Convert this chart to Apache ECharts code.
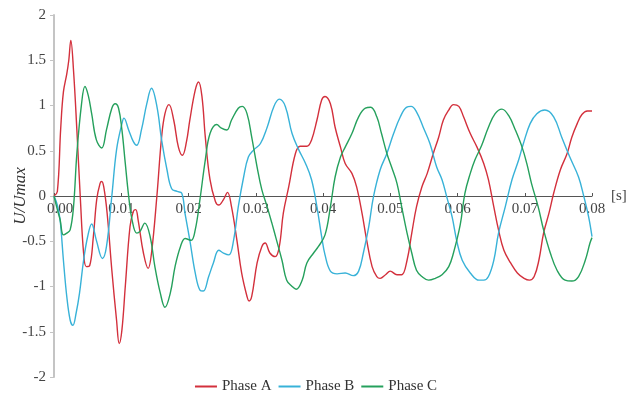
<!DOCTYPE html>
<html><head><meta charset="utf-8">
<script src="https://cdn.jsdelivr.net/npm/echarts@6/dist/echarts.min.js"></script>
<style>html,body{margin:0;padding:0;background:#fff}#c{width:632px;height:396px}</style>
</head><body><div id="c"></div>
<script>
// time in milliseconds, values U/Umax
const seriesNames = ['Phase A', 'Phase B', 'Phase C'];
const xTicks = ['0.00','0.01','0.02','0.03','0.04','0.05','0.06','0.07','0.08'];
const yTicks = [-2, -1.5, -1, -0.5, 0, 0.5, 1, 1.5, 2];

const tA = [0,0.5,1.0,1.4,1.9,2.2,2.5,2.9,3.4,3.9,4.4,4.8,5.3,5.85,6.35,6.85,7.1,7.4,7.9,8.6,9.3,9.7,10.1,10.6,11.3,11.8,12.15,12.5,13.3,14.0,14.5,15.3,16.0,16.5,17.1,17.8,18.5,19.1,19.7,20.2,21.0,21.5,22.0,22.5,23.2,24.0,24.5,25.2,25.8,26.4,27.2,27.9,28.7,29.0,29.4,30.2,30.9,31.4,32.1,32.9,33.5,34.1,34.9,35.9,36.6,37.6,38.3,39.1,39.8,40.3,41.1,41.8,42.6,43.3,44.3,45.0,45.8,46.5,47.3,48.0,48.5,49.3,50.0,51.0,51.7,52.5,53.2,53.9,54.7,55.5,56.4,57.2,57.9,58.7,59.4,60.2,60.9,61.9,62.9,63.9,64.6,65.4,66.1,66.9,67.9,68.9,69.9,70.7,71.4,72.1,72.8,73.6,74.3,75.3,76.3,77.0,77.8,78.5,79.3,80.0];
const vA = [0,0.05,0.75,1.15,1.35,1.5,1.72,1.39,0.73,0,-0.63,-0.78,-0.77,-0.45,-0.04,0.14,0.16,0.1,-0.19,-0.82,-1.37,-1.63,-1.48,-1.0,-0.34,-0.17,-0.15,-0.26,-0.63,-0.8,-0.63,0,0.65,0.91,1.01,0.84,0.54,0.45,0.6,0.84,1.17,1.26,1.10,0.65,0.18,-0.06,-0.1,-0.04,0.04,-0.12,-0.49,-0.85,-1.11,-1.16,-1.11,-0.74,-0.56,-0.52,-0.63,-0.67,-0.56,-0.19,0.10,0.47,0.55,0.55,0.62,0.84,1.06,1.10,1.02,0.76,0.54,0.36,0.25,0.10,-0.19,-0.49,-0.78,-0.89,-0.91,-0.87,-0.83,-0.87,-0.87,-0.71,-0.41,-0.12,0.10,0.25,0.47,0.65,0.84,0.95,1.01,0.99,0.875,0.69,0.54,0.36,0.18,-0.12,-0.375,-0.6,-0.74,-0.85,-0.91,-0.93,-0.89,-0.71,-0.41,-0.19,0.03,0.29,0.47,0.65,0.80,0.90,0.94,0.94];

const tB = [0,0.5,0.9,1.4,1.9,2.4,2.8,3.3,3.8,4.4,5.0,5.6,6.3,7.2,7.8,8.6,9.3,10.1,10.4,11.1,11.8,12.3,13.0,13.8,14.5,15.3,16.0,16.8,17.5,18.3,19.0,19.5,20.2,21.0,21.7,22.2,23.0,23.7,24.5,25.2,26.0,26.7,27.4,28.2,28.9,29.7,30.7,31.7,32.7,33.5,34.4,35.4,36.4,37.4,38.3,39.1,39.8,40.3,41.1,42.1,43.3,44.5,45.3,46.0,46.8,47.5,48.5,49.5,50.5,51.5,52.4,53.1,53.9,54.9,55.9,56.9,57.7,58.4,59.2,59.9,60.7,61.9,63.2,63.9,64.6,65.4,66.1,67.1,68.1,69.1,69.8,70.8,71.8,73.0,74.3,75.5,76.7,78.0,78.8,79.5,80.0];
const vB = [0,-0.1,-0.26,-0.71,-1.11,-1.37,-1.43,-1.29,-1.07,-0.71,-0.45,-0.31,-0.49,-0.69,-0.56,0,0.51,0.80,0.86,0.73,0.6,0.56,0.73,1.02,1.19,0.99,0.62,0.29,0.08,0.05,0.03,-0.2,-0.49,-0.85,-1.04,-1.05,-0.89,-0.74,-0.6,-0.63,-0.65,-0.49,-0.12,0.21,0.43,0.51,0.58,0.76,0.99,1.07,0.99,0.69,0.51,0.36,0.18,-0.12,-0.45,-0.65,-0.83,-0.86,-0.85,-0.88,-0.83,-0.63,-0.34,-0.01,0.29,0.47,0.69,0.875,0.98,0.99,0.93,0.76,0.58,0.32,0.18,-0.01,-0.23,-0.5,-0.71,-0.85,-0.93,-0.93,-0.89,-0.71,-0.41,-0.12,0.18,0.40,0.58,0.80,0.91,0.95,0.875,0.65,0.43,0.21,-0.01,-0.23,-0.45];

const tC = [0,0.5,0.9,1.4,1.9,2.4,2.9,3.4,4.1,4.6,5.1,5.6,6.3,7.1,7.8,8.6,9.1,9.6,10.1,10.6,11.1,11.6,12.3,12.8,13.5,14.3,15.0,15.8,16.5,17.3,18.0,18.8,19.5,20.4,21.0,21.7,22.5,23.2,24.2,24.9,25.7,26.4,27.4,28.0,28.7,29.4,30.2,30.9,31.7,32.4,33.1,33.9,34.6,35.4,36.0,36.9,37.6,38.6,39.3,40.3,41.1,41.8,42.6,43.3,44.3,45.3,46.3,47.1,48.0,48.7,49.5,50.2,51.0,51.7,52.5,53.2,53.9,54.7,55.7,56.7,57.7,58.7,59.4,60.4,61.1,61.9,62.6,63.6,64.6,65.6,66.6,67.6,68.6,69.6,70.3,71.0,72.0,72.8,73.8,74.8,76.0,77.0,78.0,79.0,79.7,80.0];
const vC = [0,-0.15,-0.26,-0.43,-0.41,-0.375,-0.12,0.47,1.02,1.21,1.11,0.91,0.62,0.53,0.73,0.97,1.02,0.97,0.73,0.36,0,-0.26,-0.41,-0.39,-0.3,-0.45,-0.78,-1.07,-1.23,-1.07,-0.78,-0.56,-0.47,-0.49,-0.375,-0.04,0.40,0.69,0.79,0.75,0.73,0.84,0.97,0.99,0.91,0.65,0.32,0.07,-0.12,-0.3,-0.49,-0.71,-0.93,-1.0,-1.03,-0.93,-0.74,-0.63,-0.56,-0.43,-0.12,0.21,0.43,0.54,0.69,0.875,0.97,0.98,0.875,0.69,0.47,0.32,0.14,-0.12,-0.41,-0.63,-0.82,-0.89,-0.93,-0.91,-0.87,-0.78,-0.63,-0.32,0.03,0.25,0.40,0.56,0.76,0.91,0.96,0.89,0.73,0.54,0.36,0.14,-0.12,-0.375,-0.63,-0.82,-0.93,-0.94,-0.89,-0.71,-0.52,-0.46];

const colors = ['#d3303c', '#38b2d8', '#25a05c'];
const pairs = (t, v) => t.map((x, i) => [x, v[i]]);
const serif = '"Liberation Serif","DejaVu Serif",serif';

const chart = echarts.init(document.getElementById('c'), null, {renderer: 'canvas'});
chart.setOption({
  animation: false,
  color: colors,
  grid: {left: 54, right: 40, top: 15, bottom: 19, containLabel: false, outerBoundsMode: 'none'},
  legend: {
    data: seriesNames, top: 374, left: 'center', icon: 'rect',
    itemWidth: 22, itemHeight: 2, itemGap: 7,
    textStyle: {fontFamily: serif, fontSize: 15, color: '#333'}
  },
  xAxis: {
    type: 'value', min: 0, max: 80, interval: 10,
    offset: -181,
    name: '[s]', nameLocation: 'end', nameGap: 16,
    nameTextStyle: {fontFamily: serif, fontSize: 15, color: '#444', padding: [5, 0, 0, 0]},
    axisLine: {onZero: false, lineStyle: {color: '#555', width: 1}},
    axisTick: {show: true, inside: true, length: 3, lineStyle: {color: '#555'}},
    axisLabel: {
      formatter: v => v === 0 ? '{first|' + xTicks[0] + '}' : xTicks[Math.round(v / 10)],
      rich: {first: {padding: [0, 0, 0, 12], fontFamily: serif, fontSize: 15, color: '#444'}},
      margin: 6, fontFamily: serif, fontSize: 15, color: '#444'
    },
    splitLine: {show: false}
  },
  yAxis: {
    type: 'value', min: -2, max: 2, interval: 0.5,
    name: 'U/Umax', nameLocation: 'middle', nameGap: 25, nameRotate: 90, nameMoveOverlap: false,
    nameTextStyle: {fontFamily: serif, fontStyle: 'italic', fontSize: 17, color: '#333'},
    axisLine: {show: true, onZero: false, lineStyle: {color: '#c4c4c4', width: 2}},
    axisTick: {show: true, length: 4, lineStyle: {color: '#c4c4c4'}},
    axisLabel: {formatter: v => String(yTicks[Math.round((v + 2) * 2)]), margin: 8, fontFamily: serif, fontSize: 15, color: '#444'},
    splitLine: {show: false}
  },
  series: [
    {name: seriesNames[0], type: 'line', data: pairs(tA, vA), smooth: 0.4, showSymbol: false, lineStyle: {width: 1.4}},
    {name: seriesNames[1], type: 'line', data: pairs(tB, vB), smooth: 0.4, showSymbol: false, lineStyle: {width: 1.4}},
    {name: seriesNames[2], type: 'line', data: pairs(tC, vC), smooth: 0.4, showSymbol: false, lineStyle: {width: 1.4}}
  ]
});
</script>
</body></html>
